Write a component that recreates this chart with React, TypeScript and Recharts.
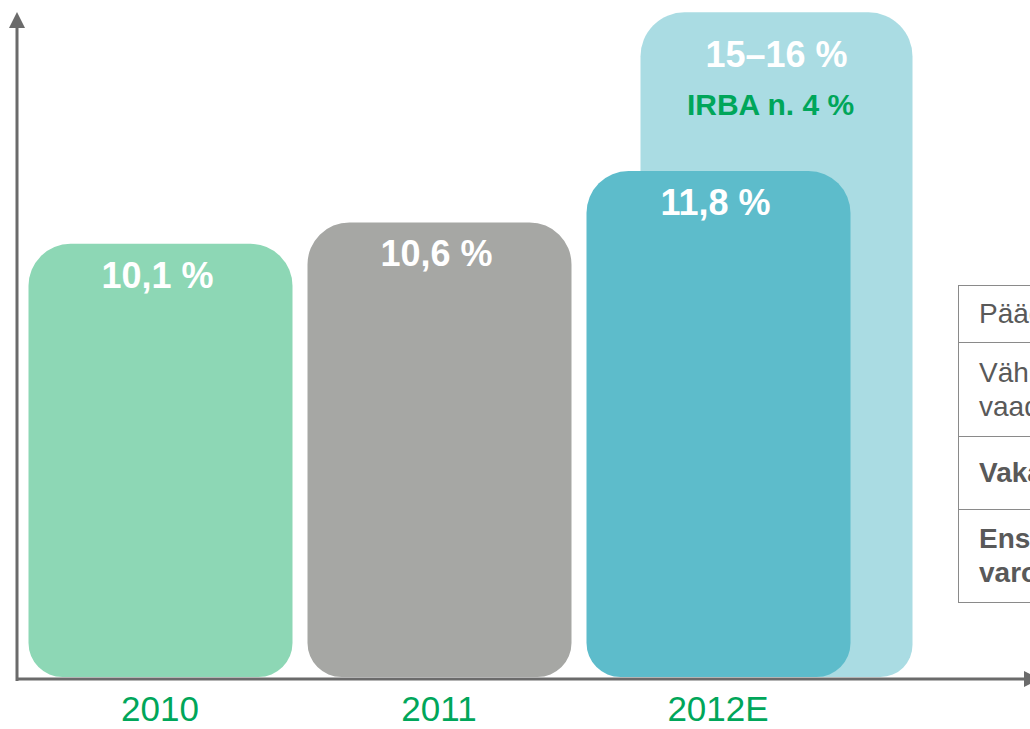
import React from "react"
import { ComposedChart, Bar, XAxis, YAxis, Cell, LabelList } from "recharts"

const years = ["2010", "2011", "2012E"]
const ratios = [10.1, 10.6, 11.8]
const ratioLabels = ["10,1 %", "10,6 %", "11,8 %"]
const targets = [null, null, 15.5]
const targetLabels = ["", "", "15–16 %"]
const targetNotes = ["", "", "IRBA n. 4 %"]
const barColors = ["#8DD7B5", "#A6A7A4", "#5DBCCB"]

const tableRows = [
    { lines: ["Pääomapuskuri"], bold: false, height: 57 },
    { lines: ["Vähimmäis-", "vaade"], bold: false, height: 94 },
    { lines: ["Vakavaraisuus"], bold: true, height: 73 },
    { lines: ["Ensisijaiset", "varojen"], bold: true, height: 93 },
]

const FONT = "'Liberation Sans', Arial, sans-serif"
const GREEN = "#00A65A"
const AXIS = "#6B6B6B"

const data = years.map((year, i) => ({
    year,
    value: ratios[i],
    label: ratioLabels[i],
    target: targets[i],
    targetLabel: targetLabels[i],
    targetNote: targetNotes[i],
}))

const mainLabel = (props: any) => {
    const { x, y, width, value } = props
    if (!value) return null
    return (
        <text x={Number(x) + Number(width) / 2 - 3} y={Number(y) + 44} textAnchor="middle" fill="#fff" fontSize={36} fontWeight="bold" fontFamily={FONT}>
            {value}
        </text>
    )
}

const targetLabel = (props: any) => {
    const { x, y, width, value } = props
    if (!value) return null
    return (
        <text x={Number(x) + Number(width) / 2} y={Number(y) + 55} textAnchor="middle" fill="#fff" fontSize={36} fontWeight="bold" fontFamily={FONT}>
            {value}
        </text>
    )
}

const targetNote = (props: any) => {
    const { x, y, width, value } = props
    if (!value) return null
    return (
        <text x={Number(x) + Number(width) / 2 - 6} y={Number(y) + 103} textAnchor="middle" fill={GREEN} fontSize={30} fontWeight="bold" fontFamily={FONT}>
            {value}
        </text>
    )
}

export default function App() {
    return (
        <div style={{ position: "absolute", left: 0, top: 0, width: 1030, height: 729, overflow: "hidden", background: "#fff", fontFamily: FONT }}>
            <ComposedChart width={1030} height={729} data={data} margin={{ top: 8, right: 0, bottom: 0, left: 17 }}>
                <XAxis
                    xAxisId="a"
                    dataKey="year"
                    height={52}
                    padding={{ left: 3.5, right: 172.5 }}
                    axisLine={false}
                    tickLine={false}
                    tickSize={0}
                    tickMargin={19}
                    tick={{ fill: GREEN, fontSize: 35, fontFamily: FONT }}
                />
                <XAxis xAxisId="b" dataKey="year" hide padding={{ left: 61.5, right: 114.5 }} />
                <YAxis hide domain={[0, 15.6]} />
                <Bar xAxisId="b" dataKey="target" barSize={272} fill="#AADCE3" radius={[44, 44, 32, 32]} isAnimationActive={false}>
                    <LabelList dataKey="targetLabel" content={targetLabel} />
                    <LabelList dataKey="targetNote" content={targetNote} />
                </Bar>
                <Bar xAxisId="a" dataKey="value" barSize={264} radius={[42, 42, 34, 34]} isAnimationActive={false}>
                    {data.map((d, i) => (
                        <Cell key={d.year} fill={barColors[i]} />
                    ))}
                    <LabelList dataKey="label" content={mainLabel} />
                </Bar>
            </ComposedChart>
            <svg width={1030} height={729} style={{ position: "absolute", left: 0, top: 0, pointerEvents: "none" }}>
                <line x1={17} y1={26} x2={17} y2={681} stroke={AXIS} strokeWidth={3} />
                <polygon points="9,28 25,28 17,12" fill={AXIS} />
                <line x1={16} y1={679} x2={1026} y2={679} stroke={AXIS} strokeWidth={3} />
                <polygon points="1024,671 1024,687 1040,679" fill={AXIS} />
            </svg>
            <table
                style={{
                    position: "absolute",
                    left: 958,
                    top: 285,
                    width: 300,
                    borderCollapse: "collapse",
                    fontFamily: FONT,
                    fontSize: 28,
                    color: "#595959",
                }}
            >
                <tbody>
                    {tableRows.map((row) => (
                        <tr key={row.lines[0]} style={{ height: row.height }}>
                            <td style={{ border: "1px solid #8A8A8A", padding: "0 0 0 20px", fontWeight: row.bold ? "bold" : "normal", lineHeight: "34px", whiteSpace: "nowrap", verticalAlign: "middle" }}>
                                {row.lines.map((l) => (
                                    <div key={l}>{l}</div>
                                ))}
                            </td>
                        </tr>
                    ))}
                </tbody>
            </table>
        </div>
    )
}
